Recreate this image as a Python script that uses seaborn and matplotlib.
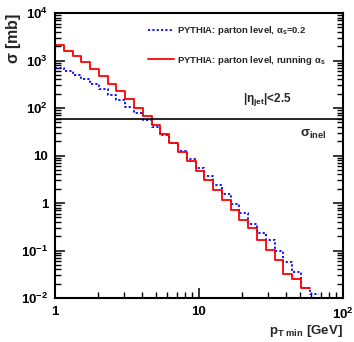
import numpy as np
import pandas as pd
import matplotlib
matplotlib.use("Agg")
import matplotlib.pyplot as plt
import seaborn as sns
from matplotlib.ticker import LogLocator, FixedLocator, FixedFormatter, NullFormatter

sns.set_theme(style="white")
plt.rcParams['font.family'] = ['Liberation Sans', 'DejaVu Sans']
plt.rcParams['font.weight'] = 'bold'
plt.rcParams['mathtext.fontset'] = 'custom'
plt.rcParams['mathtext.rm'] = 'Liberation Sans:bold'
plt.rcParams['mathtext.it'] = 'Liberation Sans:bold'
plt.rcParams['mathtext.bf'] = 'Liberation Sans:bold'

# bin edges in pT_min [GeV]
edges = [1.000, 1.151, 1.324, 1.524, 1.754, 2.018, 2.323, 2.673, 3.076, 3.540,
         4.074, 4.688, 5.395, 6.209, 7.145, 8.222, 9.462, 10.89, 12.53, 14.42,
         16.60, 19.10, 21.98, 25.29, 29.11, 33.50, 38.55, 44.36, 51.05, 58.75,
         67.61]

# red: PYTHIA parton level, running alpha_s (29 bins)
sigma_running = [2090, 1585, 1225, 930, 653, 465, 326, 228, 152, 102,
                 68, 43, 29, 18.3, 11.9, 7.66, 4.72, 3.0, 1.91, 1.18,
                 0.726, 0.447, 0.298, 0.164, 0.101, 0.062, 0.0316, 0.0256, 0.0163]

# blue: PYTHIA parton level, alpha_s = 0.2 (30 bins)
sigma_fixed = [695, 601, 488, 402, 326, 256, 191, 145, 105, 78.5,
               55, 39.2, 27.5, 18.3, 12.4, 8.3, 5.56, 3.65, 2.44, 1.58,
               0.97, 0.615, 0.368, 0.234, 0.164, 0.0976, 0.0573, 0.0353, 0.0166, 0.0124]

sigma_inel = 58.0

label_fixed = r"PYTHIA: parton level, $\alpha_{s}$=0.2"
label_running = r"PYTHIA: parton level, running $\alpha_{s}$"

ytick_vals = [1e-2, 1e-1, 1, 10, 1e2, 1e3, 1e4]
ytick_labels = [r"$10^{-2}$", r"$10^{-1}$", "1", "10", r"$10^{2}$", r"$10^{3}$", r"$10^{4}$"]
xtick_vals = [1, 10, 100]
xtick_labels = ["1", "10", r"$10^{2}$"]

df_run = pd.DataFrame({"pt": edges[:len(sigma_running) + 1],
                       "sigma": sigma_running + [sigma_running[-1]]})
df_fix = pd.DataFrame({"pt": edges[:len(sigma_fixed) + 1],
                       "sigma": sigma_fixed + [sigma_fixed[-1]]})

fig = plt.figure(figsize=(3.54, 3.42), dpi=100)
ax = fig.add_axes([55/354, 1 - 298/342, (343 - 55)/354, (298 - 13)/342])

sns.lineplot(data=df_fix, x="pt", y="sigma", ax=ax, drawstyle="steps-post",
             color="#0000ff", linewidth=1.3, linestyle=(0, (1.2, 1.2)),
             label=label_fixed, estimator=None, sort=False)
sns.lineplot(data=df_run, x="pt", y="sigma", ax=ax, drawstyle="steps-post",
             color="#ff0000", linewidth=1.3, label=label_running,
             estimator=None, sort=False)
ax.axhline(sigma_inel, color="black", linewidth=1.2)

ax.set_xscale("log")
ax.set_yscale("log")
ax.set_xlim(1, 100)
ax.set_ylim(1e-2, 1e4)

ax.yaxis.set_major_locator(FixedLocator(ytick_vals))
ax.yaxis.set_major_formatter(FixedFormatter(ytick_labels))
ax.yaxis.set_minor_locator(LogLocator(base=10, subs=np.arange(2, 10)))
ax.yaxis.set_minor_formatter(NullFormatter())
ax.xaxis.set_major_locator(FixedLocator(xtick_vals))
ax.xaxis.set_major_formatter(FixedFormatter(xtick_labels))
ax.xaxis.set_minor_locator(LogLocator(base=10, subs=np.arange(2, 10)))
ax.xaxis.set_minor_formatter(NullFormatter())

ax.tick_params(axis="both", which="both", direction="in", colors="black",
               labelsize=9.5, left=True, right=True, bottom=True, top=False)
ax.tick_params(axis="both", which="major", length=7, width=1.1)
ax.tick_params(axis="both", which="minor", length=4, width=1.0)
ax.tick_params(axis="y", which="major", pad=5)
ax.tick_params(axis="x", which="major", pad=6)
for s in ax.spines.values():
    s.set_color("black")
    s.set_linewidth(1.5)
    s.set_visible(True)

ax.set_xlabel(r"p$_{T\ min}$ [GeV]", fontsize=9.5, fontweight="bold", loc="right")
ax.xaxis.set_label_coords(1.0, -0.088)
ax.set_ylabel(r"$\sigma$ [mb]", fontsize=11.5, fontweight="bold", loc="top")
ax.yaxis.set_label_coords(-0.112, 1.0)

ax.text(0.653, 0.698, r"|$\eta_{jet}$|<2.5", transform=ax.transAxes,
        fontsize=8.5, fontweight="bold", ha="left", va="center")
ax.text(0.851, 0.575, r"$\sigma_{inel}$", transform=ax.transAxes,
        fontsize=9.5, fontweight="bold", ha="left", va="center")

leg = ax.legend(loc="upper left", bbox_to_anchor=(148/354, 1 - 24/342),
                bbox_transform=fig.transFigure, frameon=False,
                prop={"size": 6.8, "weight": "bold"}, handlelength=2.7,
                handletextpad=0.35, labelspacing=1.75, borderpad=0, borderaxespad=0)

fig.savefig("out.png", dpi=100, facecolor="white")
